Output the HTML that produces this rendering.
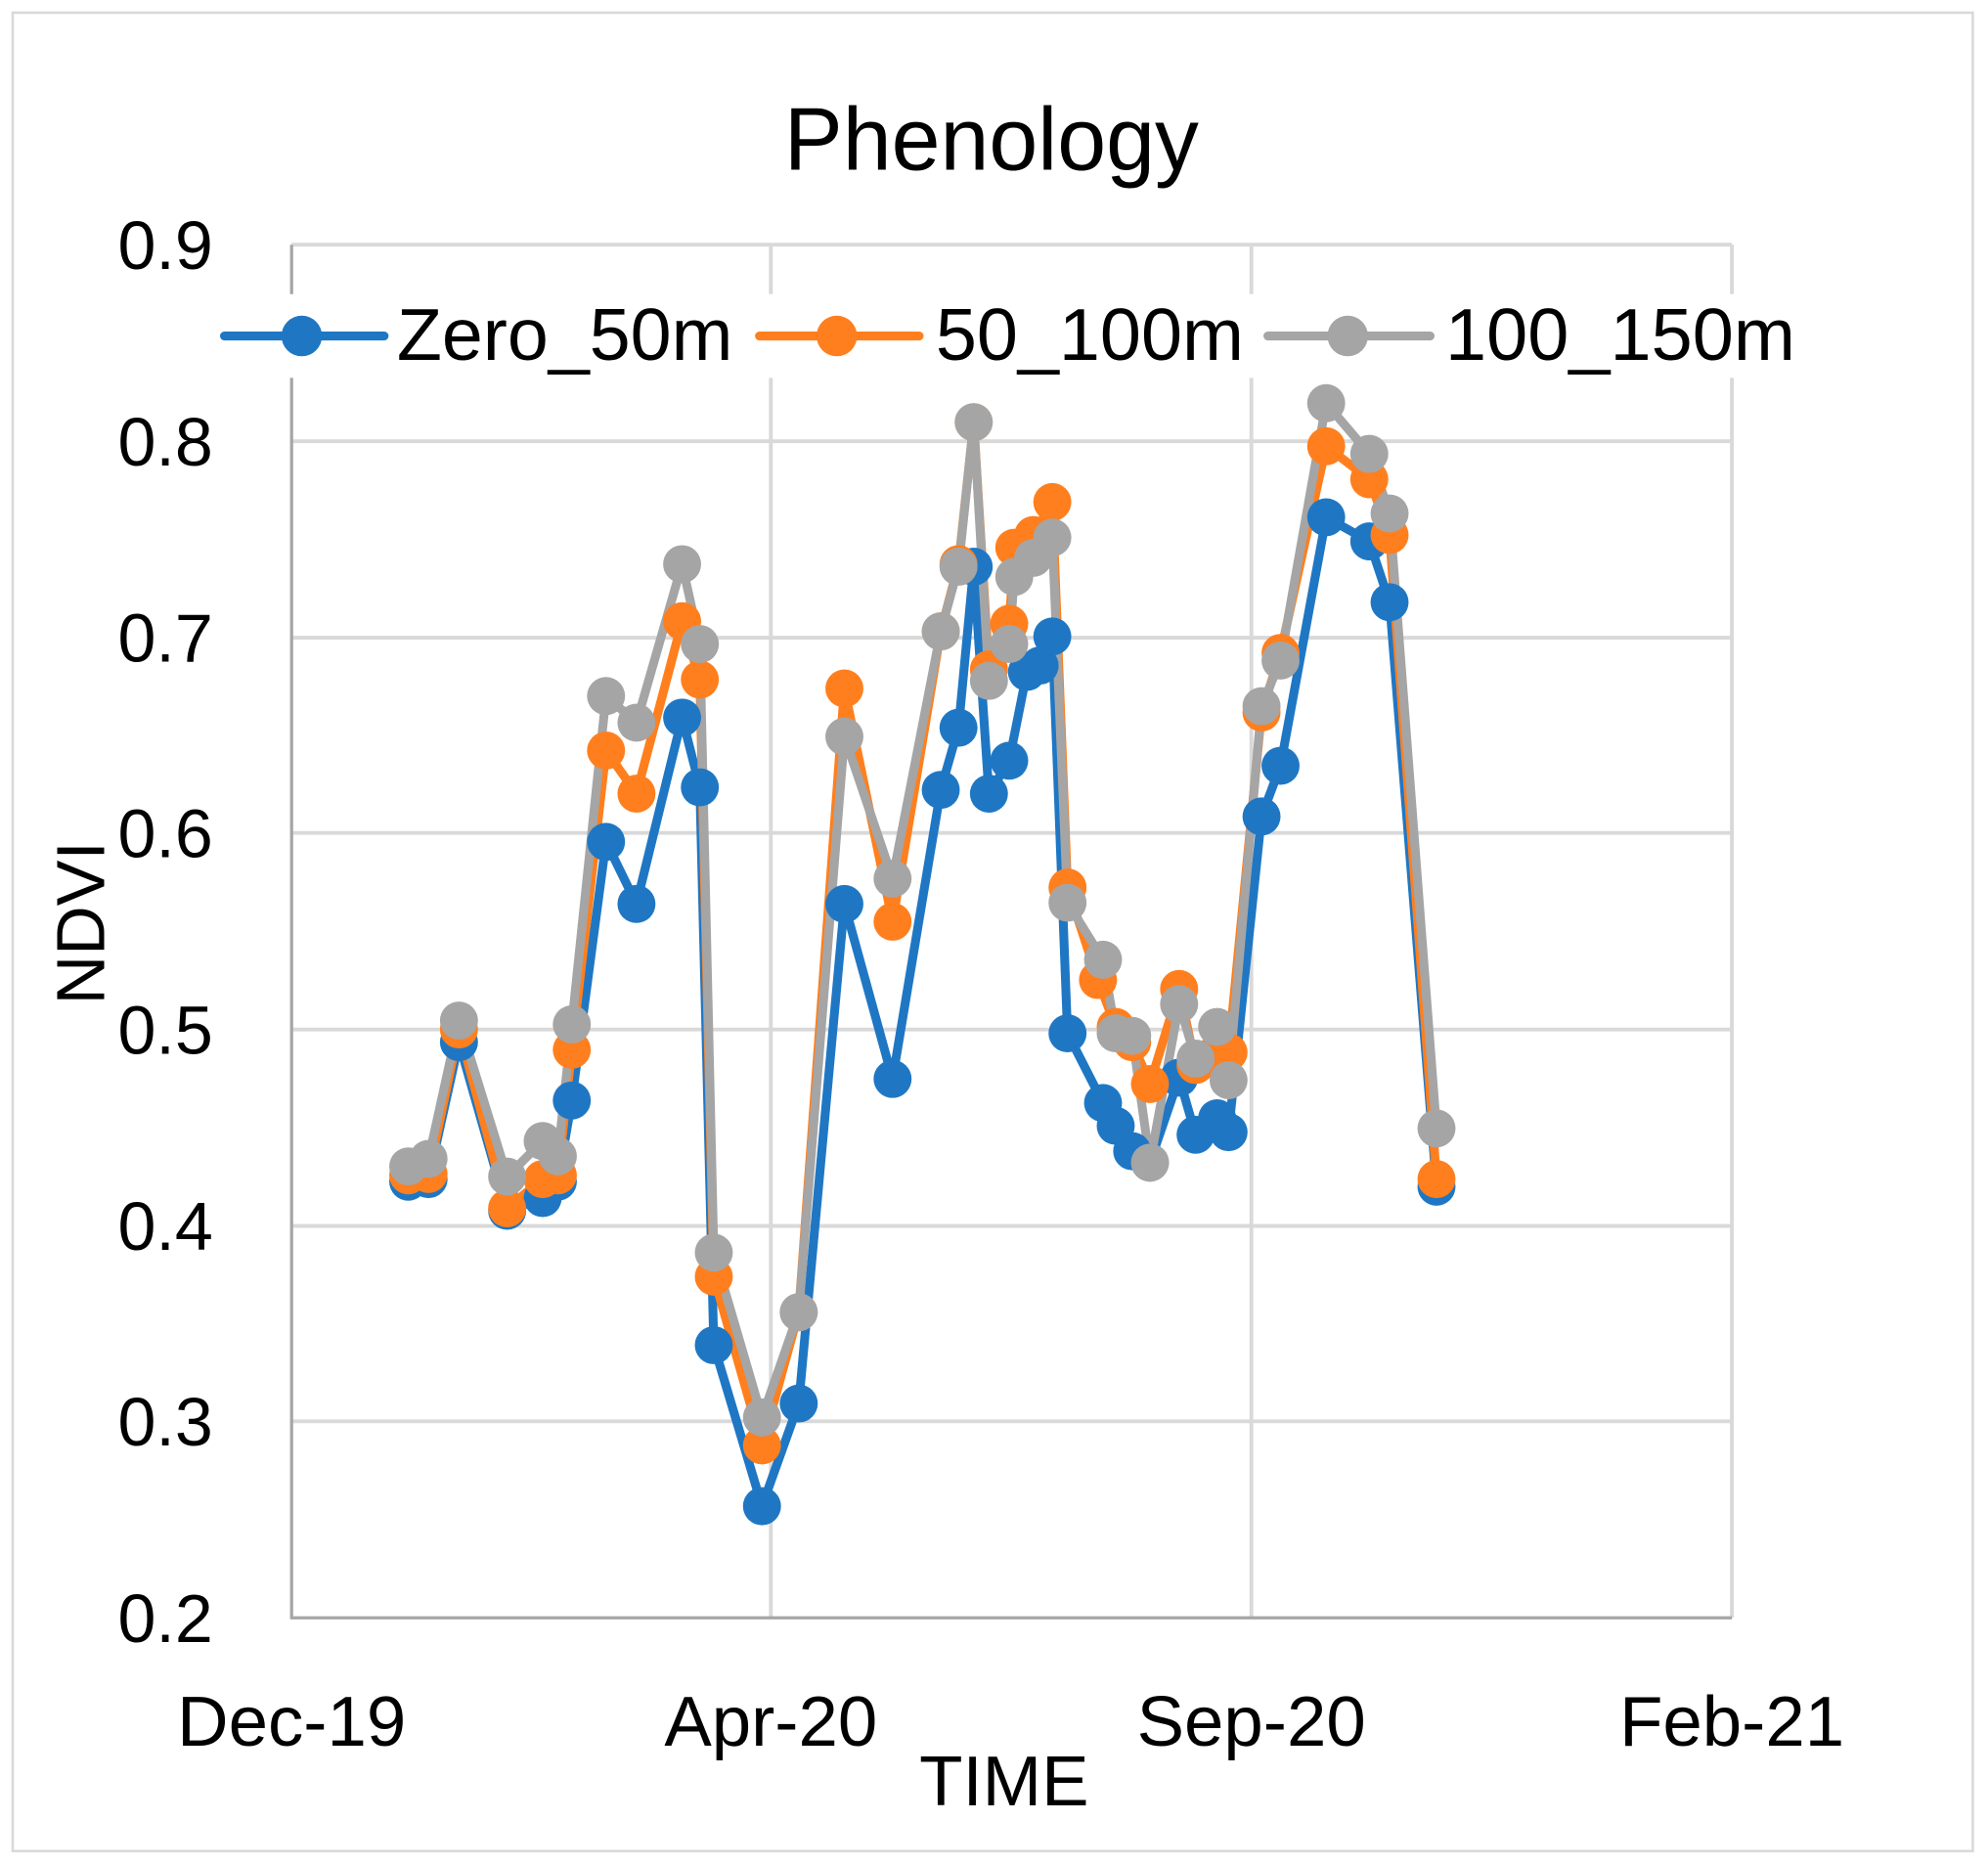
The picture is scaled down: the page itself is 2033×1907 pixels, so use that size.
<!DOCTYPE html>
<html><head><meta charset="utf-8"><style>html,body{margin:0;padding:0;background:#fff}svg{display:block}text{font-family:"Liberation Sans",sans-serif;fill:#000}</style></head><body>
<svg width="2033" height="1907" viewBox="0 0 1568 1471" preserveAspectRatio="none" xmlns="http://www.w3.org/2000/svg">
<rect x="0" y="0" width="1568" height="1471" fill="#fff"/>
<rect x="10" y="10" width="1546" height="1450" fill="none" stroke="#d9d9d9" stroke-width="2"/>
<g stroke="#d9d9d9" stroke-width="3">
<line x1="230" y1="193" x2="1366" y2="193"/><line x1="230" y1="348" x2="1366" y2="348"/><line x1="230" y1="503" x2="1366" y2="503"/><line x1="230" y1="657" x2="1366" y2="657"/><line x1="230" y1="812" x2="1366" y2="812"/><line x1="230" y1="967" x2="1366" y2="967"/><line x1="230" y1="1121" x2="1366" y2="1121"/>
<line x1="608" y1="193" x2="608" y2="1276"/><line x1="987" y1="193" x2="987" y2="1276"/><line x1="1366" y1="193" x2="1366" y2="1276"/>
</g>
<line x1="230" y1="193" x2="230" y2="1277" stroke="#a6a6a6" stroke-width="2.5"/>
<line x1="229" y1="1276" x2="1366" y2="1276" stroke="#a6a6a6" stroke-width="2.5"/>
<text x="782" y="134" font-size="70" text-anchor="middle" textLength="327" lengthAdjust="spacingAndGlyphs">Phenology</text>
<g font-size="54" text-anchor="end">
<text x="168" y="212">0.9</text><text x="168" y="367">0.8</text><text x="168" y="522">0.7</text><text x="168" y="676">0.6</text><text x="168" y="831">0.5</text><text x="168" y="986">0.4</text><text x="168" y="1140">0.3</text><text x="168" y="1295">0.2</text>
</g>
<g font-size="56" text-anchor="middle">
<text x="230" y="1377">Dec-19</text><text x="608" y="1377">Apr-20</text><text x="987" y="1377">Sep-20</text><text x="1366" y="1377">Feb-21</text>
<text x="792" y="1424">TIME</text>
</g>
<text transform="translate(82,728) rotate(-90)" font-size="54" text-anchor="middle">NDVI</text>
<g stroke-width="7" fill="none" stroke-linejoin="round" stroke-linecap="round">
<polyline stroke="#1f77c4" points="322,932 338,930 362,822 400,955 428,945 440,932 451,868 478,664 502,713 538,566 552,621 563,1061 601,1188 630,1107 666,713 704,851 742,623 756,574 768,447 780,626 796,600 810,530 820,525 830,502 842,815 870,870 880,888 893,908 907,917 930,850 943,895 960,882 969,893 995,644 1010,604 1046,408 1080,427 1096,475 1133,936"/>
<polyline stroke="#ff7f1e" points="322,927 338,926 362,812 400,953 428,930 440,927 451,828 478,592 502,626 538,490 552,536 563,1007 601,1140 630,1035 666,543 704,727 742,498 756,445 768,333 780,528 796,492 800,432 815,422 830,396 842,700 866,773 880,810 893,822 907,855 930,780 943,840 960,830 969,830 995,562 1010,515 1046,352 1080,378 1096,422 1133,930"/>
<polyline stroke="#a5a5a5" points="322,920 338,914 362,805 400,928 428,900 440,912 451,808 478,549 502,570 538,445 552,508 563,988 601,1118 630,1035 666,581 704,693 742,498 756,447 768,333 780,537 796,508 800,455 815,440 830,424 842,712 870,757 880,815 893,817 907,917 930,792 943,835 960,810 969,852 995,557 1010,521 1046,318 1080,358 1096,405 1133,890"/>
</g>
<g fill="#1f77c4">
<circle cx="322" cy="932" r="15"/><circle cx="338" cy="930" r="15"/><circle cx="362" cy="822" r="15"/><circle cx="400" cy="955" r="15"/><circle cx="428" cy="945" r="15"/><circle cx="440" cy="932" r="15"/><circle cx="451" cy="868" r="15"/><circle cx="478" cy="664" r="15"/><circle cx="502" cy="713" r="15"/><circle cx="538" cy="566" r="15"/><circle cx="552" cy="621" r="15"/><circle cx="563" cy="1061" r="15"/><circle cx="601" cy="1188" r="15"/><circle cx="630" cy="1107" r="15"/><circle cx="666" cy="713" r="15"/><circle cx="704" cy="851" r="15"/><circle cx="742" cy="623" r="15"/><circle cx="756" cy="574" r="15"/><circle cx="768" cy="447" r="15"/><circle cx="780" cy="626" r="15"/><circle cx="796" cy="600" r="15"/><circle cx="810" cy="530" r="15"/><circle cx="820" cy="525" r="15"/><circle cx="830" cy="502" r="15"/><circle cx="842" cy="815" r="15"/><circle cx="870" cy="870" r="15"/><circle cx="880" cy="888" r="15"/><circle cx="893" cy="908" r="15"/><circle cx="907" cy="917" r="15"/><circle cx="930" cy="850" r="15"/><circle cx="943" cy="895" r="15"/><circle cx="960" cy="882" r="15"/><circle cx="969" cy="893" r="15"/><circle cx="995" cy="644" r="15"/><circle cx="1010" cy="604" r="15"/><circle cx="1046" cy="408" r="15"/><circle cx="1080" cy="427" r="15"/><circle cx="1096" cy="475" r="15"/><circle cx="1133" cy="936" r="15"/>
</g>
<g fill="#ff7f1e">
<circle cx="322" cy="927" r="15"/><circle cx="338" cy="926" r="15"/><circle cx="362" cy="812" r="15"/><circle cx="400" cy="953" r="15"/><circle cx="428" cy="930" r="15"/><circle cx="440" cy="927" r="15"/><circle cx="451" cy="828" r="15"/><circle cx="478" cy="592" r="15"/><circle cx="502" cy="626" r="15"/><circle cx="538" cy="490" r="15"/><circle cx="552" cy="536" r="15"/><circle cx="563" cy="1007" r="15"/><circle cx="601" cy="1140" r="15"/><circle cx="630" cy="1035" r="15"/><circle cx="666" cy="543" r="15"/><circle cx="704" cy="727" r="15"/><circle cx="742" cy="498" r="15"/><circle cx="756" cy="445" r="15"/><circle cx="768" cy="333" r="15"/><circle cx="780" cy="528" r="15"/><circle cx="796" cy="492" r="15"/><circle cx="800" cy="432" r="15"/><circle cx="815" cy="422" r="15"/><circle cx="830" cy="396" r="15"/><circle cx="842" cy="700" r="15"/><circle cx="866" cy="773" r="15"/><circle cx="880" cy="810" r="15"/><circle cx="893" cy="822" r="15"/><circle cx="907" cy="855" r="15"/><circle cx="930" cy="780" r="15"/><circle cx="943" cy="840" r="15"/><circle cx="960" cy="830" r="15"/><circle cx="969" cy="830" r="15"/><circle cx="995" cy="562" r="15"/><circle cx="1010" cy="515" r="15"/><circle cx="1046" cy="352" r="15"/><circle cx="1080" cy="378" r="15"/><circle cx="1096" cy="422" r="15"/><circle cx="1133" cy="930" r="15"/>
</g>
<g fill="#a5a5a5">
<circle cx="322" cy="920" r="15"/><circle cx="338" cy="914" r="15"/><circle cx="362" cy="805" r="15"/><circle cx="400" cy="928" r="15"/><circle cx="428" cy="900" r="15"/><circle cx="440" cy="912" r="15"/><circle cx="451" cy="808" r="15"/><circle cx="478" cy="549" r="15"/><circle cx="502" cy="570" r="15"/><circle cx="538" cy="445" r="15"/><circle cx="552" cy="508" r="15"/><circle cx="563" cy="988" r="15"/><circle cx="601" cy="1118" r="15"/><circle cx="630" cy="1035" r="15"/><circle cx="666" cy="581" r="15"/><circle cx="704" cy="693" r="15"/><circle cx="742" cy="498" r="15"/><circle cx="756" cy="447" r="15"/><circle cx="768" cy="333" r="15"/><circle cx="780" cy="537" r="15"/><circle cx="796" cy="508" r="15"/><circle cx="800" cy="455" r="15"/><circle cx="815" cy="440" r="15"/><circle cx="830" cy="424" r="15"/><circle cx="842" cy="712" r="15"/><circle cx="870" cy="757" r="15"/><circle cx="880" cy="815" r="15"/><circle cx="893" cy="817" r="15"/><circle cx="907" cy="917" r="15"/><circle cx="930" cy="792" r="15"/><circle cx="943" cy="835" r="15"/><circle cx="960" cy="810" r="15"/><circle cx="969" cy="852" r="15"/><circle cx="995" cy="557" r="15"/><circle cx="1010" cy="521" r="15"/><circle cx="1046" cy="318" r="15"/><circle cx="1080" cy="358" r="15"/><circle cx="1096" cy="405" r="15"/><circle cx="1133" cy="890" r="15"/>
</g>
<rect x="170" y="232" width="1250" height="66" fill="#fff"/>
<g stroke-width="7" stroke-linecap="round">
<line x1="177" y1="265" x2="303" y2="265" stroke="#1f77c4"/><circle cx="238" cy="265" r="16" fill="#1f77c4"/>
<line x1="599" y1="265" x2="725" y2="265" stroke="#ff7f1e"/><circle cx="660" cy="265" r="16" fill="#ff7f1e"/>
<line x1="1000" y1="265" x2="1128" y2="265" stroke="#a5a5a5"/><circle cx="1063" cy="265" r="16" fill="#a5a5a5"/>
</g>
<g font-size="58">
<text x="313" y="284" textLength="265" lengthAdjust="spacingAndGlyphs">Zero_50m</text><text x="738" y="284" textLength="243" lengthAdjust="spacingAndGlyphs">50_100m</text><text x="1140" y="284" textLength="276" lengthAdjust="spacingAndGlyphs">100_150m</text>
</g>
</svg>
</body></html>
